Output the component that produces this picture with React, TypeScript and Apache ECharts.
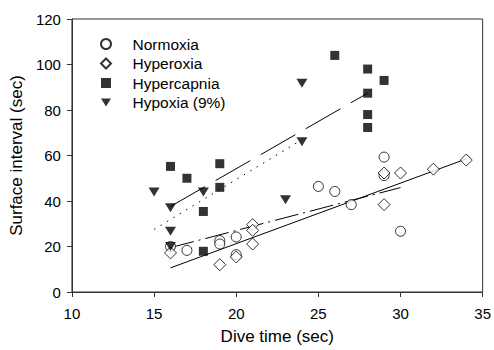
import React, { useEffect, useRef } from "react";
import * as echarts from "echarts";

const normoxiaX = [16, 17, 19, 19, 20, 20, 25, 26, 27, 29, 29, 30];
const normoxiaY = [20, 18.3, 22.6, 21.1, 24.2, 16.4, 46.4, 44.2, 38.4, 59.3, 51.2, 26.7];
const hyperoxiaX = [16, 19, 20, 21, 21, 21, 29, 29, 30, 32, 34];
const hyperoxiaY = [17.2, 12, 15.4, 29.6, 27.1, 21.1, 52.3, 38.4, 52.3, 54, 58];
const hypercapniaX = [16, 17, 18, 18, 19, 19, 26, 28, 28, 28, 28, 29];
const hypercapniaY = [55.2, 50, 35.4, 17.9, 56.4, 46, 104, 98, 87.4, 78, 72.3, 93];
const hypoxiaX = [15, 16, 16, 16, 18, 23, 24, 24];
const hypoxiaY = [44, 37, 26.7, 20, 44, 40.6, 66, 91.8];

const normoxiaFitX = [16, 30];
const normoxiaFitY = [19.5, 45.9];
const hyperoxiaFitX = [16, 34];
const hyperoxiaFitY = [10.6, 58.5];
const hypercapniaFitX = [16, 28];
const hypercapniaFitY = [37.6, 87.4];
const hypoxiaFitX = [15, 24];
const hypoxiaFitY = [27.5, 67];

const seriesNames = ["Normoxia", "Hyperoxia", "Hypercapnia", "Hypoxia (9%)"];

const zip = (xs: number[], ys: number[]) => xs.map((x, i) => [x, ys[i]]);

const FONT = "Liberation Sans, Arial, sans-serif";

export default function App() {
  const ref = useRef<HTMLDivElement>(null);
  useEffect(() => {
    if (!ref.current) return;
    const chart = echarts.init(ref.current, null, { renderer: "svg" });
    const fitLine = (name: string, xs: number[], ys: number[], type: any) => ({
      name,
      type: "line",
      data: zip(xs, ys),
      showSymbol: false,
      symbol: "none",
      lineStyle: { color: "#000", width: 1, type },
      z: 1,
      silent: true,
    });
    chart.setOption({
      animation: false,
      textStyle: { fontFamily: FONT },
      grid: {
        left: 71,
        right: 10,
        top: 19,
        bottom: 57,
        show: true,
        borderColor: "#333",
        borderWidth: 1,
      },
      legend: {
        orient: "vertical",
        left: 95,
        top: 31,
        data: [
          seriesNames[0],
          seriesNames[1],
          seriesNames[2],
          { name: seriesNames[3], icon: "path://M0,0 L11,0 L5.5,9 Z" },
        ],
        itemWidth: 10,
        itemHeight: 10,
        itemGap: 3.5,
        textStyle: {
          fontSize: 15.5,
          color: "#000",
          fontFamily: FONT,
          padding: [0, 0, 0, 16.5],
        },
      },
      xAxis: {
        type: "value",
        min: 10,
        max: 35,
        interval: 5,
        name: "Dive time (sec)",
        nameLocation: "middle",
        nameGap: 36,
        nameTextStyle: { fontSize: 17, color: "#000", fontFamily: FONT },
        axisLine: { show: true, lineStyle: { color: "#333", width: 1 } },
        axisTick: { show: true, length: 5, lineStyle: { color: "#333" } },
        axisLabel: { fontSize: 15, color: "#000", margin: 14, fontFamily: FONT },
        splitLine: { show: false },
      },
      yAxis: {
        type: "value",
        min: 0,
        max: 120,
        interval: 20,
        name: "Surface interval (sec)",
        nameLocation: "middle",
        nameGap: 40,
        nameTextStyle: { fontSize: 17, color: "#000", fontFamily: FONT },
        axisLine: { show: true, lineStyle: { color: "#333", width: 1 } },
        axisTick: { show: true, length: 5, lineStyle: { color: "#333" } },
        axisLabel: { fontSize: 15, color: "#000", margin: 11, fontFamily: FONT },
        splitLine: { show: false },
      },
      series: [
        fitLine("Normoxia fit", normoxiaFitX, normoxiaFitY, [24, 5, 2, 5]),
        fitLine("Hyperoxia fit", hyperoxiaFitX, hyperoxiaFitY, "solid"),
        fitLine("Hypercapnia fit", hypercapniaFitX, hypercapniaFitY, [40, 12]),
        fitLine("Hypoxia fit", hypoxiaFitX, hypoxiaFitY, [1.5, 6]),
        {
          name: "Normoxia",
          type: "scatter",
          data: zip(normoxiaX, normoxiaY),
          symbol: "circle",
          symbolSize: 10,
          itemStyle: { color: "#fff", borderColor: "#000", borderWidth: 1 },
          z: 3,
        },
        {
          name: "Hyperoxia",
          type: "scatter",
          data: zip(hyperoxiaX, hyperoxiaY),
          symbol: "diamond",
          symbolSize: [12, 12],
          itemStyle: { color: "#fff", borderColor: "#000", borderWidth: 1 },
          z: 3,
        },
        {
          name: "Hypercapnia",
          type: "scatter",
          data: zip(hypercapniaX, hypercapniaY),
          symbol: "rect",
          symbolSize: 9,
          itemStyle: { color: "#000" },
          z: 3,
        },
        {
          name: "Hypoxia (9%)",
          type: "scatter",
          data: zip(hypoxiaX, hypoxiaY),
          symbol: "triangle",
          symbolRotate: 180,
          symbolSize: [11, 9],
          itemStyle: { color: "#000" },
          z: 4,
        },
      ],
    });
    return () => chart.dispose();
  }, []);
  return (
    <div
      ref={ref}
      style={{ position: "absolute", left: 0, top: 0, width: 494, height: 350 }}
    />
  );
}
